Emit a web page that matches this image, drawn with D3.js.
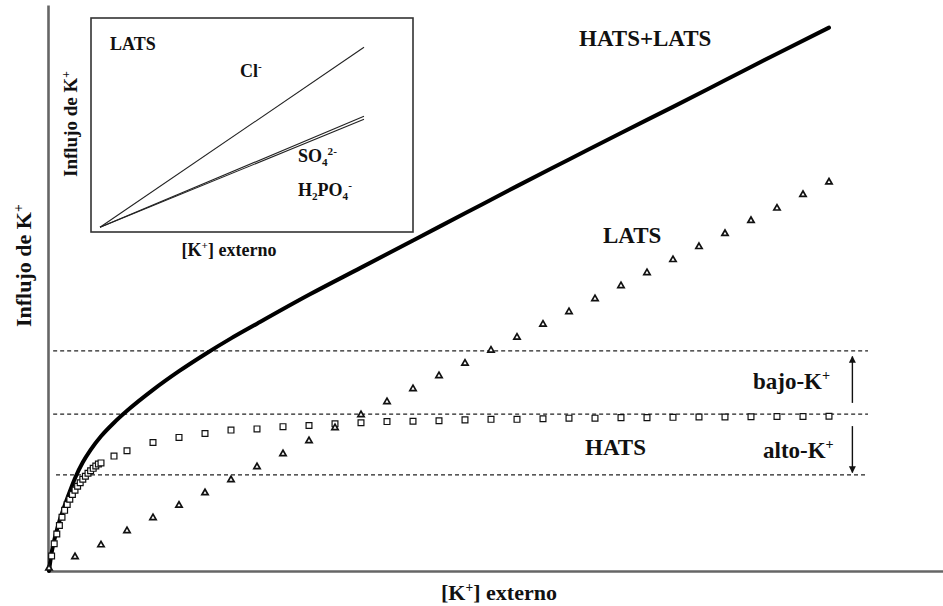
<!DOCTYPE html>
<html>
<head>
<meta charset="utf-8">
<script src="https://cdn.jsdelivr.net/npm/d3@7"></script>
<style>
  html, body { margin: 0; padding: 0; background: #fff; }
  svg { display: block; }
  text { font-family: "Liberation Serif", "Times New Roman", serif; font-weight: bold; fill: #111; }
</style>
</head>
<body>
<svg id="chart" width="943" height="606"></svg>
<script>
// External K+ concentration (arbitrary units) and K+ influx (arbitrary units)
const latsK = [0, 1, 2, 3, 4, 5, 6, 7, 8, 9, 10, 11, 12, 13, 14, 15, 16, 17, 18, 19, 20, 21, 22, 23, 24, 25, 26, 27, 28, 29, 30];
const latsFlux = [0.5, 2.5, 4.6, 7.1, 9.4, 11.6, 13.8, 16.1, 18.4, 20.7, 23.0, 25.3, 27.6, 29.9, 32.2, 34.5, 36.7, 39.0, 41.3, 43.6, 45.8, 48.1, 50.4, 52.7, 55.0, 57.3, 59.6, 61.9, 64.1, 66.5, 68.7];

const hatsK = [0.1, 0.2, 0.3, 0.4, 0.5, 0.6, 0.7, 0.8, 0.9, 1.0, 1.1, 1.2, 1.3, 1.4, 1.5, 1.6, 1.7, 1.8, 1.9, 2.0,
               2.5, 3, 4, 5, 6, 7, 8, 9, 10, 11, 12, 13, 14, 15, 16, 17, 18, 19, 20, 21, 22, 23, 24, 25, 26, 27, 28, 29, 30];
const hatsFlux = [2.65, 4.82, 6.54, 8.04, 9.49, 10.72, 11.75, 12.67, 13.52, 14.28, 14.98, 15.6, 16.2, 16.75, 17.26, 17.72, 18.14, 18.55, 18.9, 19.1,
                  20.3, 21.25, 22.7, 23.6, 24.3, 24.9, 25.1, 25.5, 25.7, 26.0, 26.2, 26.4, 26.45, 26.55, 26.7, 26.8, 26.8, 26.9, 27.0, 27.0, 27.1, 27.1, 27.15, 27.2, 27.2, 27.25, 27.3, 27.3, 27.35];

const totalK = [0, 0.1, 0.2, 0.3, 0.4, 0.5, 0.7, 1.0, 1.3, 1.6, 2.0, 2.5, 3, 4, 5, 6, 7, 8, 10, 12, 14, 16, 18, 20, 22, 24, 26, 28, 30];
const totalFlux = [0, 3.2, 5.4, 7.2, 8.8, 10.2, 12.8, 16.4, 19.2, 21.4, 23.8, 26.2, 28.3, 32.0, 35.3, 38.3, 41.1, 43.7, 48.8, 53.6, 58.4, 63.2, 68.0, 72.7, 77.4, 82.0, 86.7, 91.4, 96.0];

// Reference levels separating the high-K+ and low-K+ regimes
const levels = [38.9, 27.7, 17.0];

// Inset: LATS influx vs. external K+ for each accompanying anion
const insetAnions = ["Cl-", "SO4", "H2PO4"];
const insetSlopes = [0.90, 0.555, 0.54];

const svg = d3.select("#chart");

const x = d3.scaleLinear().domain([0, 34.385]).range([49, 943]);
const y = d3.scaleLinear().domain([0, 100]).range([571, 5]);

// Axes: plain lines without ticks
svg.append("g")
  .attr("transform", `translate(0,${y(0)})`)
  .call(d3.axisBottom(x).ticks(0).tickSizeOuter(0))
  .call(g => g.select(".domain").attr("stroke", "#666").attr("stroke-width", 2.6));
svg.append("g")
  .attr("transform", `translate(${x(0) - 1},0)`)
  .call(d3.axisLeft(y).ticks(0).tickSizeOuter(0))
  .call(g => g.select(".domain").attr("stroke", "#666").attr("stroke-width", 2.6));

// Dashed reference levels
svg.append("g").selectAll("line").data(levels).join("line")
  .attr("x1", (d, i) => x(i === 2 ? 0.27 : 0.16))
  .attr("x2", x(31.5))
  .attr("y1", d => y(d)).attr("y2", d => y(d))
  .attr("stroke", "#222").attr("stroke-width", 1.2)
  .attr("stroke-dasharray", "4,3");

// HATS + LATS total curve
const line = d3.line().x(d => x(d[0])).y(d => y(d[1])).curve(d3.curveMonotoneX);
svg.append("path")
  .datum(totalK.map((k, i) => [k, totalFlux[i]]))
  .attr("d", line)
  .attr("fill", "none").attr("stroke", "#000").attr("stroke-width", 4)
  .attr("stroke-linecap", "round");

// HATS squares
svg.append("g").selectAll("path").data(hatsK.map((k, i) => [k, hatsFlux[i]])).join("path")
  .attr("d", d3.symbol(d3.symbolSquare, 34))
  .attr("transform", d => `translate(${x(d[0])},${y(d[1])})`)
  .attr("fill", "#fff").attr("stroke", "#111").attr("stroke-width", 1.2);

// LATS triangles
svg.append("g").selectAll("path").data(latsK.map((k, i) => [k, latsFlux[i]])).join("path")
  .attr("d", d3.symbol(d3.symbolTriangle, 17))
  .attr("transform", d => `translate(${x(d[0])},${y(d[1])})`)
  .attr("fill", "#fff").attr("stroke", "#111").attr("stroke-width", 1.7);

// Arrows between reference levels
const defs = svg.append("defs");
defs.append("marker")
  .attr("id", "arrowhead").attr("viewBox", "0 0 10 10")
  .attr("refX", 9).attr("refY", 5)
  .attr("markerWidth", 7).attr("markerHeight", 9)
  .attr("markerUnits", "userSpaceOnUse")
  .attr("orient", "auto")
  .append("path").attr("d", "M0,0 L10,5 L0,10 Z").attr("fill", "#111");

const arrows = [[29.7, 37.9], [25.6, 17.4]];
svg.append("g").selectAll("line").data(arrows).join("line")
  .attr("x1", x(30.9)).attr("x2", x(30.9))
  .attr("y1", d => y(d[0])).attr("y2", d => y(d[1]))
  .attr("stroke", "#111").attr("stroke-width", 1.4)
  .attr("marker-end", "url(#arrowhead)");

// Labels with super/subscripts
function label(parent, px, py, parts, size, anchor) {
  const t = parent.append("text").attr("x", px).attr("y", py)
    .attr("font-size", size).attr("text-anchor", anchor || "start");
  let shift = 0;
  parts.forEach(p => {
    const s = t.append("tspan").text(p.t);
    let target = 0;
    if (p.sup) { target = -size * 0.38; s.attr("font-size", size * 0.62); }
    if (p.sub) { target = size * 0.22; s.attr("font-size", size * 0.62); }
    s.attr("dy", target - shift);
    shift = target;
  });
  return t;
}

label(svg, 579, 46, [{t: "HATS+LATS"}], 23);
label(svg, 603, 243, [{t: "LATS"}], 23);
label(svg, 585, 455, [{t: "HATS"}], 23);
label(svg, 753, 389, [{t: "bajo-K"}, {t: "+", sup: true}], 23);
label(svg, 763, 458, [{t: "alto-K"}, {t: "+", sup: true}], 23);

label(svg, 499, 600, [{t: "[K"}, {t: "+", sup: true}, {t: "] externo"}], 22, "middle");
label(svg, 0, 0, [{t: "Influjo de K"}, {t: "+", sup: true}], 22)
  .attr("transform", "translate(31,327) rotate(-90)");

// Inset panel
const inset = svg.append("g");
inset.append("rect")
  .attr("x", 91).attr("y", 18).attr("width", 322).attr("height", 214)
  .attr("fill", "#fff").attr("stroke", "#333").attr("stroke-width", 1.6);

const ix = d3.scaleLinear().domain([0, 1]).range([100, 364]);
const iy = d3.scaleLinear().domain([0, 1]).range([227.3, 27.3]);
inset.append("g").selectAll("line").data(insetSlopes).join("line")
  .attr("x1", ix(0)).attr("y1", iy(0))
  .attr("x2", ix(1)).attr("y2", d => iy(d))
  .attr("stroke", "#222").attr("stroke-width", 1.1);

label(inset, 110, 50, [{t: "LATS"}], 18);
label(inset, 240, 77, [{t: "Cl"}, {t: "-", sup: true}], 18);
label(inset, 298, 162, [{t: "SO"}, {t: "4", sub: true}, {t: "2-", sup: true}], 18);
label(inset, 298, 196, [{t: "H"}, {t: "2", sub: true}, {t: "PO"}, {t: "4", sub: true}, {t: "-", sup: true}], 18);
label(inset, 229, 256, [{t: "[K"}, {t: "+", sup: true}, {t: "] externo"}], 18, "middle");
label(inset, 0, 0, [{t: "Influjo de K"}, {t: "+", sup: true}], 19, "middle")
  .attr("transform", "translate(77,124) rotate(-90)");
</script>
</body>
</html>
